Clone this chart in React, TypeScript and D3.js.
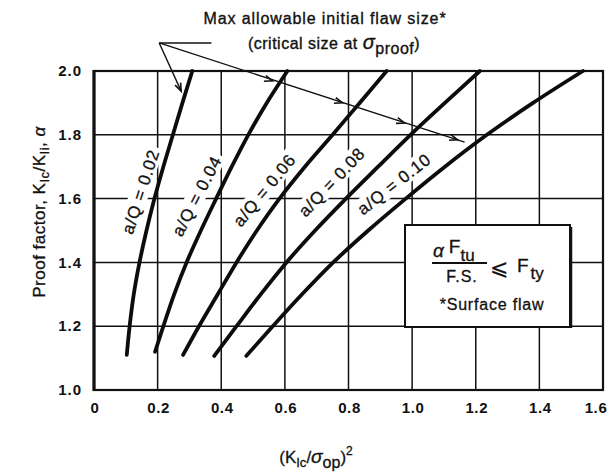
import React, { useEffect, useRef } from "react";
import * as d3 from "d3";

// curve points [x, y], one list per a/Q value
const aQ02 = [[0.103, 1.11], [0.112, 1.2], [0.125, 1.3], [0.143, 1.4], [0.165, 1.5], [0.19, 1.6], [0.218, 1.7], [0.248, 1.8], [0.278, 1.9], [0.309, 2.0]];
const aQ04 = [[0.192, 1.12], [0.218, 1.2], [0.252, 1.3], [0.291, 1.4], [0.336, 1.5], [0.384, 1.6], [0.433, 1.7], [0.485, 1.8], [0.543, 1.9], [0.608, 2.0]];
const aQ06 = [[0.28, 1.11], [0.33, 1.2], [0.389, 1.3], [0.448, 1.4], [0.512, 1.5], [0.583, 1.6], [0.663, 1.7], [0.75, 1.8], [0.835, 1.9], [0.92, 2.0]];
const aQ08 = [[0.378, 1.107], [0.448, 1.2], [0.524, 1.3], [0.605, 1.4], [0.695, 1.5], [0.792, 1.6], [0.893, 1.7], [0.995, 1.8], [1.103, 1.9], [1.213, 2.0]];
const aQ10 = [[0.479, 1.107], [0.562, 1.2], [0.654, 1.3], [0.752, 1.4], [0.862, 1.5], [0.98, 1.6], [1.103, 1.7], [1.235, 1.8], [1.38, 1.9], [1.537, 2.0]];
const curves = [aQ02, aQ04, aQ06, aQ08, aQ10];

// labels along each curve: text, centre [x, y] in data units, angle
const curveLabels = ["a/Q = 0.02", "a/Q = 0.04", "a/Q = 0.06", "a/Q = 0.08", "a/Q = 0.10"];
const labelPos = [[0.158, 1.618], [0.334, 1.602], [0.545, 1.618], [0.756, 1.643], [0.951, 1.636]];
const labelAngle = [-72, -62.5, -50.5, -46.5, -38];

const xTicks = [0, 0.2, 0.4, 0.6, 0.8, 1.0, 1.2, 1.4, 1.6];
const yTicks = [1.0, 1.2, 1.4, 1.6, 1.8, 2.0];

// leader lines of the "max allowable flaw" note
const leaderApex = [0.205, 2.088];
const leaderFoot = [0.369, 2.088];
const leaderShort = [0.274, 1.937];
const leaderLong = [1.165, 1.777];
const arrowPts = [[0.561, 1.969], [0.781, 1.9], [0.976, 1.837], [1.143, 1.784]];

const W = 612;
const H = 475;

const App = () => {
  const ref = useRef(null);

  useEffect(() => {
    draw();
    //eslint-disable-next-line
  }, []);

  function draw() {
    const svg = d3.select(ref.current);
    svg.selectAll("*").remove();

    const x = d3.scaleLinear().domain([0, 1.6]).range([94, 603]);
    const y = d3.scaleLinear().domain([1, 2]).range([390, 71]);
    const font = "'Liberation Sans', Arial, sans-serif";
    const ink = "#111";

    svg.append("rect").attr("width", W).attr("height", H).attr("fill", "#fff");

    // grid
    const g = svg.append("g").attr("stroke", ink).attr("stroke-width", 1.5);
    xTicks.slice(1, -1).forEach((t) =>
      g.append("line").attr("x1", x(t)).attr("x2", x(t)).attr("y1", y(1)).attr("y2", y(2))
    );
    yTicks.slice(1, -1).forEach((t) =>
      g.append("line").attr("x1", x(0)).attr("x2", x(1.6)).attr("y1", y(t)).attr("y2", y(t))
    );

    // local -y moves the label up-left, away from its curve
    const labelTf = (i) =>
      `translate(${x(labelPos[i][0])},${y(labelPos[i][1])}) rotate(${labelAngle[i]}) translate(0,-4)`;

    // white bands behind the curve labels
    curveLabels.forEach((lab, i) => {
      svg
        .append("rect")
        .attr("x", -47)
        .attr("y", -10)
        .attr("width", 94)
        .attr("height", 19)
        .attr("fill", "#fff")
        .attr("transform", labelTf(i));
    });

    // legend box
    const bx = 405, by = 225, bw = 165, bh = 102;
    svg.append("rect").attr("x", bx).attr("y", by).attr("width", bw).attr("height", bh)
      .attr("fill", "#fff").attr("stroke", ink).attr("stroke-width", 2);
    svg.append("line").attr("x1", bx + bw + 1).attr("x2", bx + bw + 1).attr("y1", by + 2).attr("y2", by + bh + 1)
      .attr("stroke", ink).attr("stroke-width", 2.5);

    // frame
    svg.append("rect").attr("x", x(0)).attr("y", y(2)).attr("width", x(1.6) - x(0)).attr("height", y(1) - y(2))
      .attr("fill", "none").attr("stroke", ink).attr("stroke-width", 2.2);
    svg.append("line").attr("x1", x(0)).attr("x2", x(0)).attr("y1", y(2) - 1).attr("y2", y(1) + 1)
      .attr("stroke", ink).attr("stroke-width", 3.2);

    // curves
    const line = d3.line().x((d) => x(d[0])).y((d) => y(d[1])).curve(d3.curveCatmullRom);
    curves.forEach((c) => {
      svg.append("path").attr("d", line(c)).attr("fill", "none").attr("stroke", "#0c0c0c")
        .attr("stroke-width", 3.8).attr("stroke-linecap", "round");
    });

    // curve labels
    curveLabels.forEach((lab, i) => {
      svg.append("text").attr("text-anchor", "middle").attr("dy", "0.35em")
        .attr("transform", labelTf(i))
        .attr("font-family", font).attr("font-size", 17).attr("letter-spacing", 0.8)
        .attr("fill", ink).attr("stroke", ink).attr("stroke-width", 0.3).text(lab);
    });

    // ticks
    xTicks.forEach((t) => {
      svg.append("text").attr("x", Math.min(x(t) + 1, 596)).attr("y", 413).attr("text-anchor", "middle")
        .attr("font-family", font).attr("font-size", 15).attr("font-weight", "bold").attr("letter-spacing", 0.6)
        .attr("fill", ink).text(t === 0 ? "0" : t.toFixed(1));
    });
    yTicks.forEach((t) => {
      svg.append("text").attr("x", 82).attr("y", y(t)).attr("dy", "0.35em").attr("text-anchor", "end")
        .attr("font-family", font).attr("font-size", 15).attr("font-weight", "bold").attr("letter-spacing", 1)
        .attr("fill", ink).text(t.toFixed(1));
    });

    // leader lines and arrows
    const lead = svg.append("g").attr("stroke", ink).attr("stroke-width", 1.4).attr("fill", "none");
    const P = (p) => [x(p[0]), y(p[1])];
    const [ax, ay] = P(leaderApex);
    [leaderFoot, leaderShort, leaderLong].forEach((p) => {
      const [px, py] = P(p);
      lead.append("line").attr("x1", ax).attr("y1", ay).attr("x2", px).attr("y2", py);
    });
    const arrowHead = (tip, from) => {
      const [tx, ty] = P(tip);
      const ang = Math.atan2(ty - from[1], tx - from[0]);
      const len = 8, wid = 3;
      const bx0 = tx - len * Math.cos(ang), by0 = ty - len * Math.sin(ang);
      const nx = -Math.sin(ang) * wid, ny = Math.cos(ang) * wid;
      lead.append("path")
        .attr("d", `M${bx0 + nx},${by0 + ny}L${tx},${ty}L${bx0 - nx},${by0 - ny}`)
        .attr("stroke-width", 1.6);
    };
    arrowHead(leaderShort, [ax, ay]);
    arrowPts.forEach((p) => arrowHead(p, [ax, ay]));

    // note text
    const note = svg.append("g").attr("font-family", font).attr("font-size", 16).attr("fill", ink)
      .attr("stroke", ink).attr("stroke-width", 0.35).attr("text-anchor", "middle");
    note.append("text").attr("x", 325).attr("y", 24).attr("letter-spacing", 0.9).text("Max allowable initial flaw size*");
    const n2 = note.append("text").attr("x", 334).attr("y", 49).attr("letter-spacing", 0.5);
    n2.append("tspan").text("(critical size at ");
    n2.append("tspan").attr("font-size", 20).attr("font-style", "italic").text("σ");
    n2.append("tspan").attr("dy", 5).attr("font-size", 16).text("proof");
    n2.append("tspan").attr("dy", -5).text(")");

    // axis titles
    const xt = svg.append("text").attr("x", 316).attr("y", 463).attr("text-anchor", "middle")
      .attr("font-family", font).attr("font-size", 17).attr("fill", ink).attr("stroke", ink).attr("stroke-width", 0.3);
    xt.append("tspan").text("(K");
    xt.append("tspan").attr("dy", 4).attr("font-size", 13).text("Ic");
    xt.append("tspan").attr("dy", -4).text("/");
    xt.append("tspan").attr("font-size", 19).attr("font-style", "italic").text("σ");
    xt.append("tspan").attr("dy", 5).attr("font-size", 16).text("op");
    xt.append("tspan").attr("dy", -5).text(")");
    xt.append("tspan").attr("dy", -8).attr("font-size", 12).text("2");

    const yt = svg.append("text").attr("transform", "translate(45,212) rotate(-90)").attr("text-anchor", "middle")
      .attr("font-family", font).attr("font-size", 17).attr("letter-spacing", 0.5).attr("fill", ink)
      .attr("stroke", ink).attr("stroke-width", 0.3);
    yt.append("tspan").text("Proof factor, K");
    yt.append("tspan").attr("dy", 4).attr("font-size", 13).text("Ic");
    yt.append("tspan").attr("dy", -4).text("/K");
    yt.append("tspan").attr("dy", 4).attr("font-size", 13).text("Ii");
    yt.append("tspan").attr("dy", -4).text(", ");
    yt.append("tspan").attr("font-style", "italic").text("α");

    // legend content
    const lg = svg.append("g").attr("font-family", font).attr("fill", ink).attr("stroke", ink).attr("stroke-width", 0.3);
    const num = lg.append("text").attr("x", 433).attr("y", 257).attr("font-size", 19);
    num.append("tspan").attr("font-style", "italic").text("α");
    num.append("tspan").attr("dx", 5).attr("dy", -4).text("F");
    num.append("tspan").attr("dy", 8).attr("font-size", 17).text("tu");
    lg.append("line").attr("x1", 432).attr("x2", 487).attr("y1", 263).attr("y2", 263).attr("stroke-width", 1.8);
    lg.append("text").attr("x", 462).attr("y", 282).attr("text-anchor", "middle").attr("font-size", 16)
      .attr("letter-spacing", 1).text("F.S.");
    lg.append("text").attr("x", 499).attr("y", 275).attr("text-anchor", "middle").attr("font-size", 22)
      .attr("stroke-width", 0.2).text("⩽");
    const rhs = lg.append("text").attr("x", 517).attr("y", 272).attr("font-size", 19);
    rhs.append("tspan").text("F");
    rhs.append("tspan").attr("dx", 2).attr("dy", 7).attr("font-size", 17).text("ty");
    lg.append("text").attr("x", 492).attr("y", 310).attr("text-anchor", "middle").attr("font-size", 16)
      .attr("letter-spacing", 0.8).text("*Surface flaw");
  }

  return (
    <svg ref={ref} width={W} height={H} style={{ position: "absolute", left: 0, top: 0 }} />
  );
};

export default App;
